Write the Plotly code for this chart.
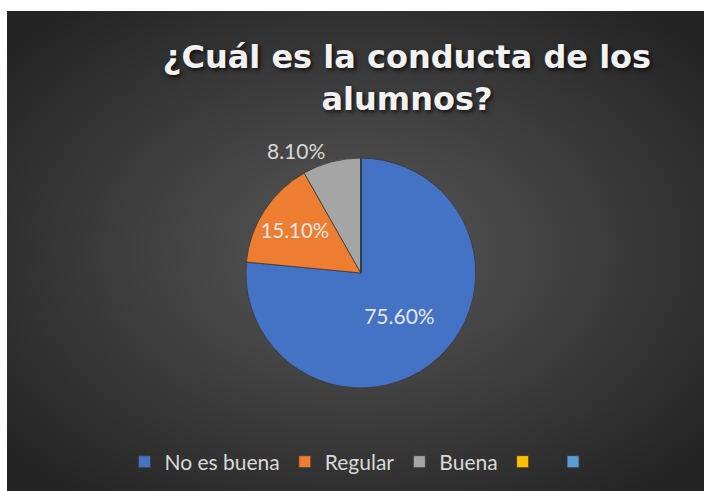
import base64
import plotly.graph_objects as go

# Survey answers: "¿Cuál es la conducta de los alumnos?"
labels = ['No es buena', 'Regular', 'Buena', ' ', '  ']
values = [75.6, 15.1, 8.1, 0, 0]
colors = ['#4472C4', '#ED7D31', '#A5A5A5', '#FFC000', '#5B9BD5']
text_labels = ['75.60%', '15.10%', '8.10%', '', '']
text_pos = ['inside', 'inside', 'outside', 'inside', 'inside']

W, H = 704, 491

# radial dark background as an inline svg
svg = ('<svg xmlns="http://www.w3.org/2000/svg" width="697" height="480" viewBox="0 0 697 480">'
       '<defs><radialGradient id="g" cx="50%" cy="50%" r="65%">'
       '<stop offset="0%" stop-color="#585858"/>'
       '<stop offset="100%" stop-color="#242424"/>'
       '</radialGradient></defs>'
       '<rect width="697" height="480" fill="url(#g)"/></svg>')
bg_src = 'data:image/svg+xml;base64,' + base64.b64encode(svg.encode()).decode()

fig = go.Figure(go.Pie(
    labels=labels,
    values=values,
    text=text_labels,
    textinfo='text',
    textposition=text_pos,
    insidetextorientation='horizontal',
    sort=False,
    direction='clockwise',
    rotation=0,
    marker=dict(colors=colors, line=dict(color='#3a3a3a', width=0.8)),
    textfont=dict(family='Lato', size=21, color='#e6e6e6'),
    outsidetextfont=dict(family='Lato', size=21, color='#d9d9d9'),
    hoverinfo='label+percent',
    domain=dict(x=[0.349, 0.676], y=[0.210, 0.678]),
))

fig.update_layout(
    width=W, height=H,
    margin=dict(l=0, r=0, t=0, b=0),
    paper_bgcolor='white',
    images=[dict(source=bg_src, xref='paper', yref='paper',
                 x=7 / W, y=1 - 11 / H, sizex=1 - 7 / W, sizey=1 - 11 / H,
                 xanchor='left', yanchor='top', sizing='stretch', layer='below')],
    title=dict(
        text='¿Cuál es la conducta de los<br>alumnos?',
        x=407 / W, xanchor='center',
        y=1 - 68 / H, yanchor='top',
        font=dict(family='DejaVu Sans', size=32, color='#f2f2f2', weight='bold',
                  shadow='2px 2px 4px rgba(0,0,0,0.75)'),
    ),
    legend=dict(
        orientation='h', x=367 / W, xanchor='center', y=1 - 462 / H, yanchor='middle',
        font=dict(family='Lato', size=21, color='#d9d9d9'),
        bgcolor='rgba(0,0,0,0)',
    ),
)

# drop the default page margin so the figure sits at the window's corner
fig.write_html("out.html", config={'displayModeBar': False},
               post_script="document.body.style.margin='0';")
